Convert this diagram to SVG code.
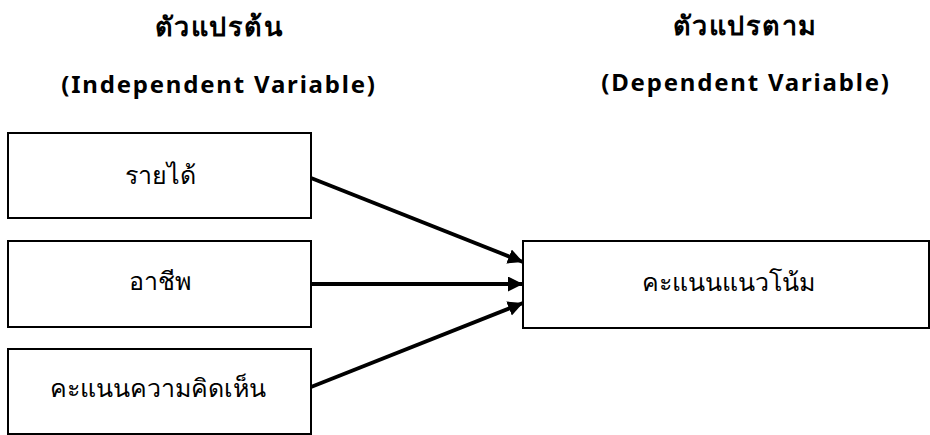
<svg xmlns="http://www.w3.org/2000/svg" width="930" height="435" viewBox="0 0 930 435">
<style>
.t{font-family:"Noto Sans","DejaVu Sans",sans-serif;font-size:27px;font-weight:bold;fill:#000;text-anchor:middle;letter-spacing:1.5px}
.e{font-family:"Noto Sans","DejaVu Sans",sans-serif;font-size:24px;font-weight:bold;fill:#000;text-anchor:middle;letter-spacing:1.8px}
.l{font-family:"Noto Sans","DejaVu Sans",sans-serif;font-size:25px;fill:#000;text-anchor:middle}
.b{fill:#fff;stroke:#000;stroke-width:2}
.c{stroke:#000;stroke-width:3.8;fill:none;marker-end:url(#ah)}
</style>
<defs>
<marker id="ah" markerWidth="16" markerHeight="16" refX="15" refY="7.5" orient="auto" markerUnits="userSpaceOnUse">
<path d="M0,0 L15,7.5 L0,15 Z" fill="#000"/>
</marker>
</defs>
<rect width="930" height="435" fill="#fff"/>
<g id="titles">
<text class="t" x="219" y="36">ตัวแปรต้น</text>
<text class="e" x="219" y="93">(Independent Variable)</text>
<text class="t" x="745" y="35">ตัวแปรตาม</text>
<text class="e" x="746" y="91">(Dependent Variable)</text>
</g>
<g id="connectors">
<line class="c" x1="311" y1="178" x2="523" y2="262"/>
<line class="c" x1="311" y1="284" x2="523" y2="284"/>
<line class="c" x1="311" y1="387" x2="523" y2="303"/>
</g>
<g id="n1"><rect class="b" x="8" y="133" width="303" height="85"/><text class="l" x="160" y="184">รายได้</text></g>
<g id="n2"><rect class="b" x="8" y="241" width="303" height="86"/><text class="l" x="160" y="290">อาชีพ</text></g>
<g id="n3"><rect class="b" x="8" y="349" width="303" height="85"/><text class="l" x="158" y="397">คะแนนความคิดเห็น</text></g>
<g id="n4"><rect class="b" x="523" y="241" width="406" height="87"/><text class="l" x="728" y="291">คะแนนแนวโน้ม</text></g>
</svg>
